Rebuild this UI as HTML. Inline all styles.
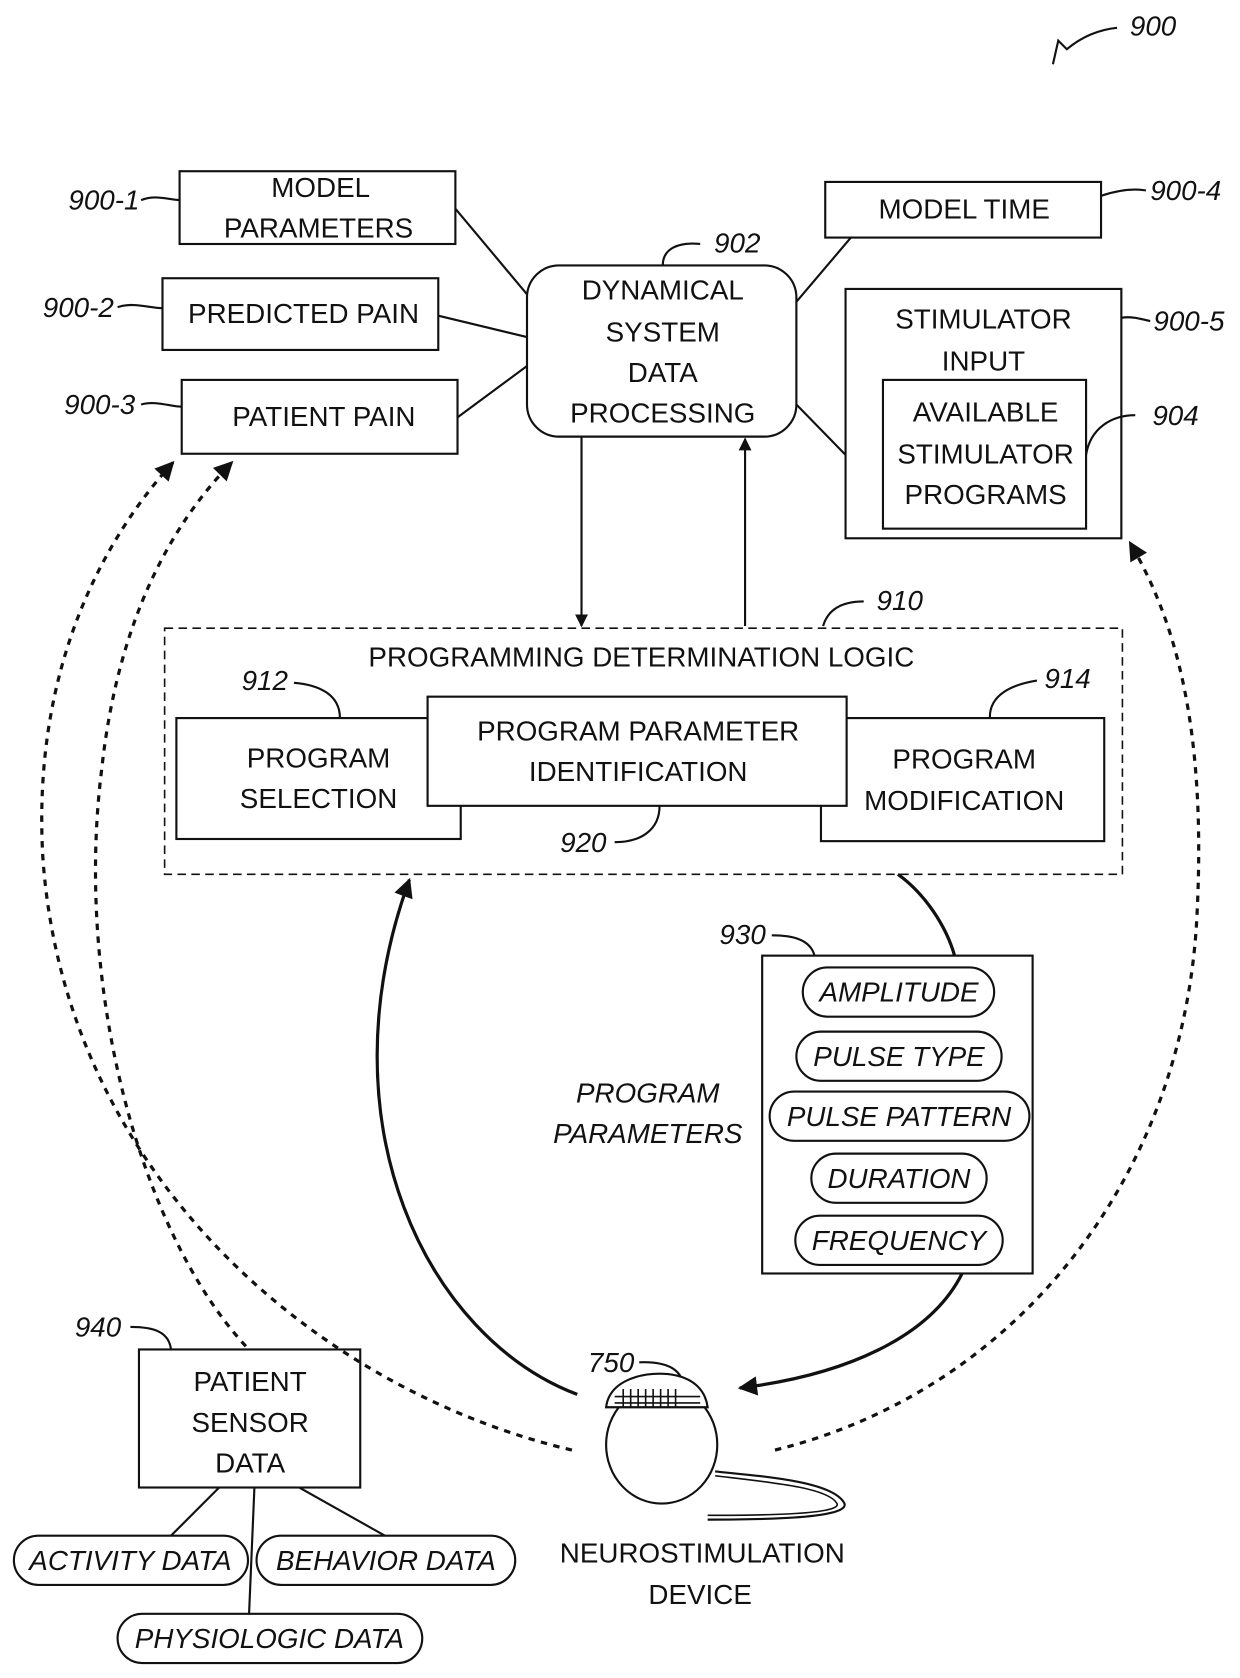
<!DOCTYPE html>
<html><head><meta charset="utf-8"><style>
html,body{margin:0;padding:0;background:#fff;}
svg{display:block;}
text{font-family:"Liberation Sans",Arial,sans-serif;font-size:26px;fill:#111;text-anchor:middle;}
.i{font-style:italic;}
.l{font-style:italic;text-anchor:start;}
</style></head><body>
<svg width="1240" height="1678" viewBox="0 0 1160 1568" preserveAspectRatio="none" xmlns="http://www.w3.org/2000/svg">
<defs>
<marker id="a" viewBox="0 0 10 10" refX="9" refY="5" markerWidth="16" markerHeight="12" orient="auto" markerUnits="userSpaceOnUse"><path d="M0,0 L10,5 L0,10 z" fill="#111"/></marker>
<marker id="b" viewBox="0 0 10 10" refX="9" refY="5" markerWidth="24" markerHeight="18" orient="auto" markerUnits="userSpaceOnUse"><path d="M0,0 L10,5 L0,10 z" fill="#111"/></marker>
</defs>
<g fill="none" stroke="#111" stroke-width="2">
<path d="M985,60 L990,38 L998,46 C1010,36 1025,28 1045,26"/>
<rect x="168" y="160" width="258" height="68"/>
<rect x="152" y="260" width="258" height="67"/>
<rect x="170" y="355" width="258" height="69"/>
<rect x="493" y="248" width="252" height="160" rx="30"/>
<rect x="772" y="170" width="258" height="52"/>
<rect x="791" y="270" width="258" height="233"/>
<rect x="826" y="355" width="190" height="139"/>
<path d="M426,195 L493,275 M410,295 L493,315 M428,390 L493,342 M796,222 L745,282 M791,425 L745,378"/>
<path d="M132,187 C145,182 155,186 168,187"/>
<path d="M110,287 C125,282 140,288 152,288"/>
<path d="M132,378 C145,374 160,380 170,380"/>
<path d="M1030,183 C1045,178 1060,176 1072,178"/>
<path d="M1049,297 C1060,295 1070,299 1076,300"/>
<path d="M1016,425 C1020,400 1040,388 1062,388"/>
<path d="M620,248 C620,232 635,226 655,228"/>
<path d="M770,585 C775,568 790,562 808,562"/>
<path d="M318,671 C318,650 300,640 275,638"/>
<path d="M926,670 C926,650 945,640 970,636"/>
<path d="M617,753 C617,775 600,787 575,787"/>
<path d="M762,893 C758,878 742,874 722,874"/>
<path d="M160,1261 C158,1245 145,1240 122,1240"/>
<path d="M640,1300 C640,1280 625,1272 598,1273"/>
<path d="M544,408 L544,585" marker-end="url(#a)"/>
<path d="M697,585 L697,410" marker-end="url(#a)"/>
<rect x="154" y="587" width="896" height="230" stroke-dasharray="8,5" stroke-width="1.5"/>
<rect x="165" y="671" width="266" height="113"/>
<rect x="768" y="671" width="265" height="115"/>
<rect x="400" y="651" width="392" height="102" fill="#fff"/>
<rect x="713" y="893" width="253" height="297"/>
<rect x="751" y="904" width="179" height="46" rx="23"/>
<rect x="745" y="964" width="192" height="46" rx="23"/>
<rect x="720" y="1020" width="243" height="46" rx="23"/>
<rect x="759" y="1078" width="164" height="46" rx="23"/>
<rect x="744" y="1136" width="194" height="46" rx="23"/>
<path d="M540,1303 C400,1250 300,1050 383,822" stroke-width="3" marker-end="url(#b)"/>
<path d="M840,817 C865,835 885,865 893,893" stroke-width="3"/>
<path d="M900,1190 C870,1250 790,1285 692,1297" stroke-width="3" marker-end="url(#b)"/>
<path d="M535,1355 C300,1300 60,1100 40,800 C30,620 100,500 162,432" stroke-width="3" stroke-dasharray="6,6" marker-end="url(#b)"/>
<path d="M230,1258 C130,1150 70,920 95,720 C110,580 160,490 217,432" stroke-width="3" stroke-dasharray="6,6" marker-end="url(#b)"/>
<path d="M725,1355 C950,1300 1110,1100 1120,850 C1128,680 1100,580 1057,507" stroke-width="3" stroke-dasharray="6,6" marker-end="url(#b)"/>
<rect x="130" y="1261" width="207" height="129"/>
<rect x="13" y="1435" width="219" height="46" rx="23"/>
<rect x="240" y="1435" width="242" height="46" rx="23"/>
<rect x="110" y="1508" width="285" height="46" rx="23"/>
<path d="M205,1390 L160,1435 M280,1390 L360,1435 M238,1390 L233,1508"/>
<ellipse cx="619" cy="1350" rx="52" ry="55"/>
<path d="M567,1315 C570,1290 600,1282 625,1284 C650,1287 660,1300 662,1315 Z" fill="#fff"/>
<path d="M575,1305 L655,1305 M575,1311 L655,1311 M583,1298 L583,1315 M590,1298 L590,1315 M597,1298 L597,1315 M604,1298 L604,1315 M611,1298 L611,1315 M618,1298 L618,1315 M625,1298 L625,1315 M632,1298 L632,1315" stroke-width="1.5"/>
<path d="M669,1375 C720,1380 780,1385 790,1405 C795,1420 700,1420 662,1420"/>
<path d="M669,1379 C720,1385 775,1390 783,1405 C788,1416 700,1416 662,1416" stroke-width="1.5"/>
</g>
<text class="l" x="1057" y="33">900</text>
<text x="300" y="184">MODEL</text><text x="298" y="222">PARAMETERS</text>
<text x="284" y="302">PREDICTED PAIN</text>
<text x="303" y="398">PATIENT PAIN</text>
<text x="620" y="280">DYNAMICAL</text><text x="620" y="319">SYSTEM</text><text x="620" y="357">DATA</text><text x="620" y="395">PROCESSING</text>
<text x="902" y="204">MODEL TIME</text>
<text x="920" y="307">STIMULATOR</text><text x="920" y="346">INPUT</text>
<text x="922" y="394">AVAILABLE</text><text x="922" y="433">STIMULATOR</text><text x="922" y="471">PROGRAMS</text>
<text class="l" x="64" y="196">900-1</text>
<text class="l" x="40" y="296">900-2</text>
<text class="l" x="60" y="387">900-3</text>
<text class="l" x="1076" y="187">900-4</text>
<text class="l" x="1079" y="309">900-5</text>
<text class="l" x="1078" y="397">904</text>
<text class="l" x="668" y="236">902</text>
<text class="l" x="820" y="570">910</text>
<text x="600" y="623">PROGRAMMING DETERMINATION LOGIC</text>
<text class="l" x="226" y="645">912</text>
<text class="l" x="977" y="643">914</text>
<text class="l" x="524" y="796">920</text>
<text class="l" x="673" y="882">930</text>
<text x="298" y="717">PROGRAM</text><text x="298" y="755">SELECTION</text>
<text x="597" y="692">PROGRAM PARAMETER</text><text x="597" y="730">IDENTIFICATION</text>
<text x="902" y="718">PROGRAM</text><text x="902" y="757">MODIFICATION</text>
<text class="i" x="841" y="936">AMPLITUDE</text>
<text class="i" x="841" y="996">PULSE TYPE</text>
<text class="i" x="841" y="1052">PULSE PATTERN</text>
<text class="i" x="841" y="1110">DURATION</text>
<text class="i" x="841" y="1168">FREQUENCY</text>
<text class="i" x="606" y="1030">PROGRAM</text><text class="i" x="606" y="1068">PARAMETERS</text>
<text class="l" x="70" y="1249">940</text>
<text class="l" x="550" y="1282">750</text>
<text x="234" y="1300">PATIENT</text><text x="234" y="1338">SENSOR</text><text x="234" y="1376">DATA</text>
<text class="i" x="122" y="1467">ACTIVITY DATA</text>
<text class="i" x="361" y="1467">BEHAVIOR DATA</text>
<text class="i" x="252" y="1540">PHYSIOLOGIC DATA</text>
<text x="657" y="1460">NEUROSTIMULATION</text><text x="655" y="1499">DEVICE</text>
</svg>
</body></html>
